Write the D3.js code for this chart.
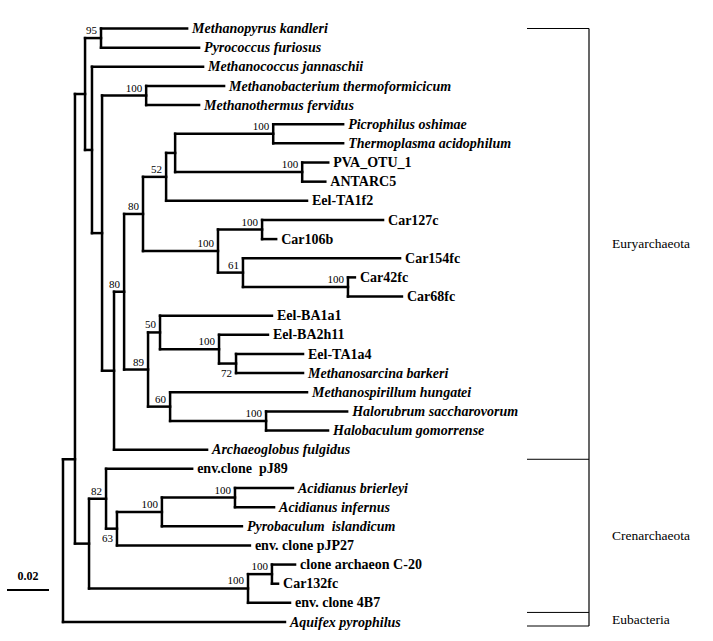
<!DOCTYPE html>
<html><head><meta charset="utf-8">
<script src="https://cdn.jsdelivr.net/npm/d3@7/dist/d3.min.js"></script>
<style>body{margin:0;background:#fff} svg text{white-space:pre}</style>
</head><body><svg id="chart" width="713" height="641" font-family="'Liberation Serif', 'Times New Roman', Times, 'DejaVu Serif', serif"></svg>
<script>
// ---- data: tree topology (preorder), branch lengths (substitutions/site), bootstrap support ----
const nodeIds = [
 "root","A","Eury","n95","Methanopyrus kandleri","Pyrococcus furiosus","n92","Methanococcus jannaschii",
 "n102","n146","Methanobacterium thermoformicicum","Methanothermus fervidus","n114","n124","n143","n166",
 "n175","n273","Picrophilus oshimae","Thermoplasma acidophilum","n302","PVA_OTU_1","ANTARC5","Eel-TA1f2",
 "n218","n262","Car127c","Car106b","n243","Car154fc","n348","Car42fc","Car68fc",
 "n148","n160","Eel-BA1a1","n219","Eel-BA2h11","n236","Eel-TA1a4","Methanosarcina barkeri",
 "n170","Methanospirillum hungatei","n266","Halorubrum saccharovorum","Halobaculum gomorrense",
 "Archaeoglobus fulgidus","Cren","n106","env.clone  pJ89","n117","n162","n235","Acidianus brierleyi",
 "Acidianus infernus","Pyrobaculum  islandicum","env. clone pJP27","n248","n272","clone archaeon C-20",
 "Car132fc","env. clone 4B7","Aquifex pyrophilus"
];
const parentIds = [
 "","root","A","Eury","n95","n95","Eury","n92",
 "n92","n102","n146","n146","n102","n114","n124","n143",
 "n166","n175","n273","n273","n175","n302","n302","n166",
 "n143","n218","n262","n262","n218","n243","n243","n348","n348",
 "n124","n148","n160","n160","n219","n219","n236","n236",
 "n148","n170","n170","n266","n266",
 "n114","A","Cren","n106","n106","n117","n162","n235",
 "n235","n162","n117","Cren","n248","n272",
 "n272","n248","root"
];
const branchLengths = [
 0,0.0057,0.0048,0.0076,0.0410,0.0467,0.0033,0.0529,
 0.0048,0.0210,0.0371,0.0252,0.0057,0.0048,0.0090,0.0110,
 0.0043,0.0467,0.0333,0.0333,0.0605,0.0124,0.0110,0.0671,
 0.0357,0.0210,0.0576,0.0067,0.0119,0.0748,0.0500,0.0033,0.0257,
 0.0114,0.0057,0.0533,0.0281,0.0233,0.0081,0.0319,0.0319,
 0.0105,0.0652,0.0457,0.0386,0.0295,
 0.0443,0.0067,0.0081,0.0410,0.0052,0.0214,0.0348,0.0276,
 0.0186,0.0381,0.0633,0.0757,0.0114,0.0110,
 0.0029,0.0200,0.1057
];
const bootstrap = [
 "","","","95","","","","",
 "","100","","","","80","80","52",
 "","100","","","100","","","",
 "100","100","","","61","","100","","",
 "89","50","","100","","72","","",
 "60","","100","","",
 "","","82","","63","100","100","",
 "","","","100","100","",
 "","",""
];
const italicTaxa = [
 "Methanopyrus kandleri","Pyrococcus furiosus","Methanococcus jannaschii","Methanobacterium thermoformicicum",
 "Methanothermus fervidus","Picrophilus oshimae","Thermoplasma acidophilum","Methanosarcina barkeri",
 "Methanospirillum hungatei","Halorubrum saccharovorum","Halobaculum gomorrense","Archaeoglobus fulgidus",
 "Acidianus brierleyi","Acidianus infernus","Pyrobaculum  islandicum","Aquifex pyrophilus"
];
const cladeNames = ["Euryarchaeota","Crenarchaeota","Eubacteria"];
const cladeFirst = ["Methanopyrus kandleri","env.clone  pJ89","Aquifex pyrophilus"];
const cladeLast = ["Archaeoglobus fulgidus","env. clone 4B7","Aquifex pyrophilus"];
const scaleBarValue = 0.02;
const scaleBarLabel = "0.02";

// ---- build hierarchy ----
const rows = nodeIds.map((id,i)=>({id, parent: parentIds[i], len: branchLengths[i], bs: bootstrap[i]}));
const root = d3.stratify().id(d=>d.id).parentId(d=>d.parent || null)(rows);
root.eachBefore(n=>{ n.dist = n.parent ? n.parent.dist + n.data.len : 0; });

const FONT = "'Liberation Serif', 'Times New Roman', Times, 'DejaVu Serif', serif";
const svg = d3.select("#chart");
const x = d3.scaleLinear().domain([0, 0.2]).range([63, 483]);
const leaves = root.leaves();
const y = d3.scalePoint().domain(leaves.map(d=>d.id)).range([28.5, 622]);
leaves.forEach(l=>l.yy = y(l.id));
root.eachAfter(n=>{
  if(n.children){
    const c = n.children;
    if(n.parent && n.parent === root){
      const a = c[0].leaves(), b = c[c.length-1].leaves();
      n.yy = (y(a[a.length-1].id) + y(b[0].id))/2;
    } else n.yy = (c[0].yy + c[c.length-1].yy)/2;
  }
});

const g = svg.append("g");
const lineStyle = s=>s.attr("stroke","#000").attr("stroke-width",2.5).attr("fill","none").attr("stroke-linecap","square");
root.descendants().filter(n=>n.parent).forEach(n=>{
  g.append("line").attr("x1",x(n.parent.dist)).attr("x2",x(n.dist)).attr("y1",n.yy).attr("y2",n.yy).call(lineStyle);
});
root.descendants().filter(n=>n.children).forEach(n=>{
  const ys = n.children.map(c=>c.yy);
  g.append("line").attr("x1",x(n.dist)).attr("x2",x(n.dist)).attr("y1",d3.min(ys)).attr("y2",d3.max(ys)).call(lineStyle);
});
const ital = new Set(italicTaxa);
leaves.forEach(l=>{
  g.append("text").attr("x",x(l.dist)+5).attr("y",l.yy).attr("dy","0.33em")
   .attr("font-family",FONT).attr("font-size",14).attr("font-weight","bold")
   .attr("font-style",ital.has(l.id)?"italic":"normal").text(l.id);
});
const below = new Set(["n236","n117"]);
root.descendants().filter(n=>n.data.bs).forEach(n=>{
  g.append("text").attr("x",x(n.dist)-4).attr("y",below.has(n.id)? n.yy+13 : n.yy-4)
   .attr("font-family",FONT).attr("text-anchor","end").attr("font-size",11).text(n.data.bs);
});
const bx = 589, bx0 = 527;
const bounds = [];
cladeNames.forEach((name,i)=>{
  const iF = leaves.findIndex(l=>l.id===cladeFirst[i]), iL = leaves.findIndex(l=>l.id===cladeLast[i]);
  const top = iF===0 ? leaves[0].yy : (leaves[iF-1].yy + leaves[iF].yy)/2;
  const bot = iL===leaves.length-1 ? leaves[iL].yy+4 : (leaves[iL].yy + leaves[iL+1].yy)/2;
  bounds.push(top, bot);
  svg.append("text").attr("x",612).attr("y",(top+bot)/2).attr("dy","0.33em")
   .attr("font-family",FONT).attr("font-size",13.5).text(name);
});
Array.from(new Set(bounds)).forEach(b=>{
  svg.append("line").attr("x1",bx0).attr("x2",bx).attr("y1",b).attr("y2",b).attr("stroke","#000").attr("stroke-width",1);
});
svg.append("line").attr("x1",bx).attr("x2",bx).attr("y1",d3.min(bounds)).attr("y2",d3.max(bounds)).attr("stroke","#000").attr("stroke-width",1.2);
const sb = d3.scaleLinear().domain([0, scaleBarValue]).range([7, 7 + x(scaleBarValue) - x(0)]);
svg.append("line").attr("x1",sb(0)).attr("x2",sb(scaleBarValue)).attr("y1",590).attr("y2",590).attr("stroke","#000").attr("stroke-width",2);
svg.append("text").attr("x",(sb(0)+sb(scaleBarValue))/2).attr("y",580).attr("text-anchor","middle")
 .attr("font-family",FONT).attr("font-size",12).attr("font-weight","bold").text(scaleBarLabel);
</script></body></html>
